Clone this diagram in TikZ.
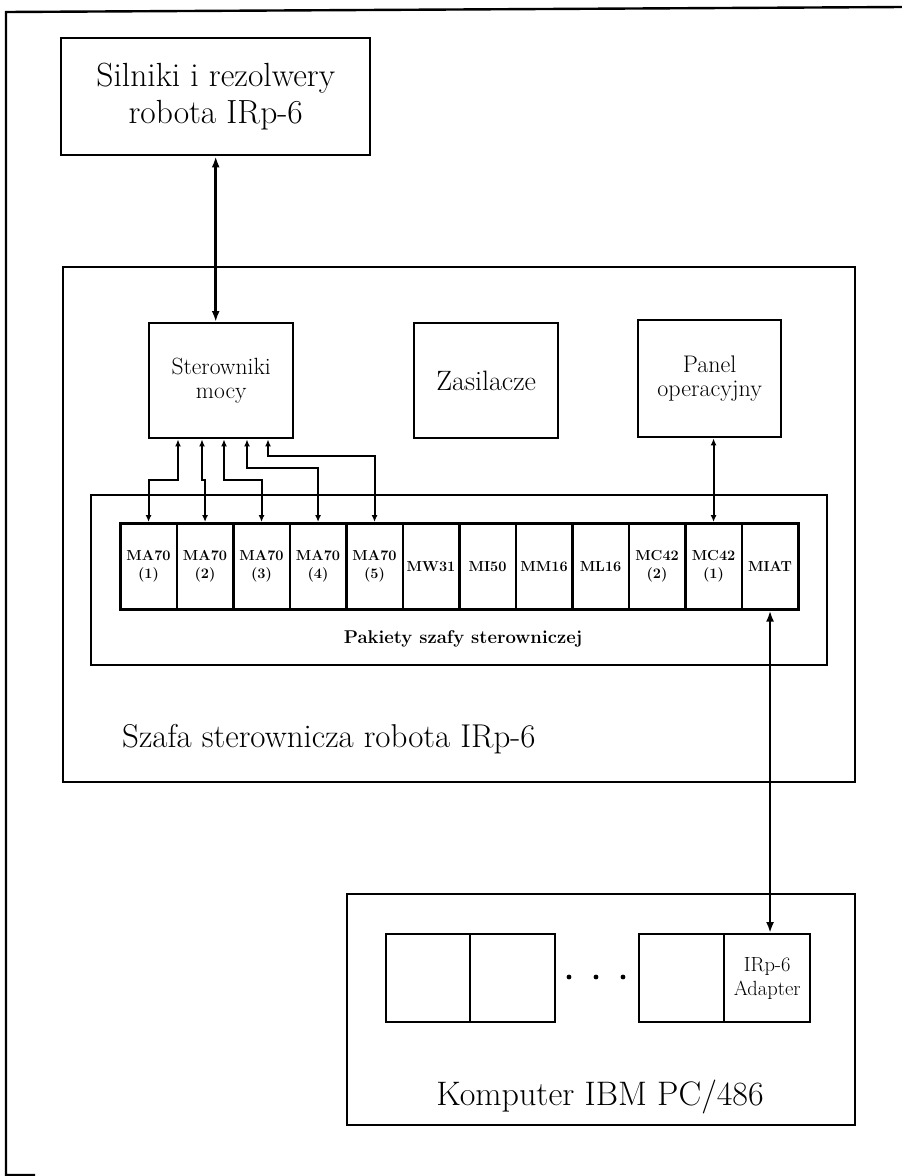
\documentclass[tikz,border=0pt]{standalone}
\usetikzlibrary{arrows.meta,calc}
\newcommand\myfs[2]{\fontsize{#1}{#2}\selectfont}
\begin{document}
\begin{tikzpicture}[x=1pt,y=-1pt,
  box/.style={draw, line width=2.4pt, inner sep=0pt, align=center, anchor=north west},
  modbox/.style={box, line width=2.6pt, minimum width=56.5pt, minimum height=86pt, font=\bfseries\myfs{14.5}{18}},
  smallarr/.style={line width=2pt, {Latex[length=7pt,width=6pt]}-{Latex[length=7pt,width=6pt]}},
  bigarr/.style={line width=2.6pt, {Latex[length=11pt,width=8pt]}-{Latex[length=11pt,width=8pt]}},
  frame/.style={line width=2.4pt}]
\useasboundingbox (0,0) rectangle (902,1176);

% outer frame
\draw[frame] (902,7) -- (6,12) -- (6,1175) -- (35,1175);

% top box
\node[box, minimum width=309pt, minimum height=117pt, font=\myfs{33.5}{37}] (sil) at (60,37) {Silniki i rezolwery\\robota IRp-6};

% cabinet
\node[box, minimum width=792pt, minimum height=515pt] (szafa) at (62,266) {};
\node[anchor=base west, inner sep=0pt, font=\myfs{33}{38}] (szafat) at (122,747) {Szafa sterownicza robota IRp-6};

\node[box, minimum width=144pt, minimum height=115pt, font=\myfs{23.5}{24}] (ster) at (148,322) {Sterowniki\\mocy};
\node[box, minimum width=144pt, minimum height=115pt, font=\myfs{28}{30}] (zas) at (413,322) {Zasilacze};
\node[box, minimum width=143pt, minimum height=117pt, font=\myfs{24}{24}] (panel) at (637,319) {Panel\\operacyjny};

% packets
\node[box, minimum width=736pt, minimum height=170pt] (pak) at (90,494) {};
\node[anchor=base, inner sep=0pt, font=\bfseries\myfs{18.5}{20}] (pakt) at (463,643) {Pakiety szafy sterowniczej};

\foreach \i/\t in {1/{MA70\\(1)},2/{MA70\\(2)},3/{MA70\\(3)},4/{MA70\\(4)},5/{MA70\\(5)},6/{MW31},7/{MI50},8/{MM16},9/{ML16},10/{MC42\\(2)},11/{MC42\\(1)},12/{MIAT}}{
  \pgfmathsetmacro\xx{119+(\i-1)*56.5}
  \node[modbox] (m\i) at (\xx,522) {\t};
}

% computer
\node[box, minimum width=508pt, minimum height=231pt] (pc) at (346,893) {};
\node[anchor=base, inner sep=0pt, font=\myfs{34}{37}] (pct) at (600,1105) {Komputer IBM PC/486};
\node[box, minimum width=84pt, minimum height=88pt] (s1) at (385,933) {};
\node[box, minimum width=85pt, minimum height=88pt] (s2) at (469,933) {};
\node[box, minimum width=85pt, minimum height=88pt] (s3) at (638,933) {};
\node[box, minimum width=86pt, minimum height=88pt, font=\myfs{20.5}{24}] (adapter) at (723,933) {IRp-6\\Adapter};
\fill (569,977) circle (2.4pt) (596,977) circle (2.4pt) (623,977) circle (2.4pt);

% connectors
\draw[bigarr] (sil.south) -- (sil.south |- ster.north);
\draw[smallarr] ($(ster.south west)+(30,0)$) -- ++(0,41) -| (m1.north);
\draw[smallarr] ($(ster.south west)+(54,0)$) -- ++(0,41) -| (m2.north);
\draw[smallarr] ($(ster.south west)+(76,0)$) -- ++(0,41) -| (m3.north);
\draw[smallarr] ($(ster.south west)+(99,0)$) -- ++(0,29) -| (m4.north);
\draw[smallarr] ($(ster.south west)+(120,0)$) -- ++(0,17) -| (m5.north);
\draw[smallarr] (m11.north |- panel.south) -- (m11.north);
\draw[bigarr] (m12.south) -- (m12.south |- adapter.north);
\end{tikzpicture}
\end{document}
